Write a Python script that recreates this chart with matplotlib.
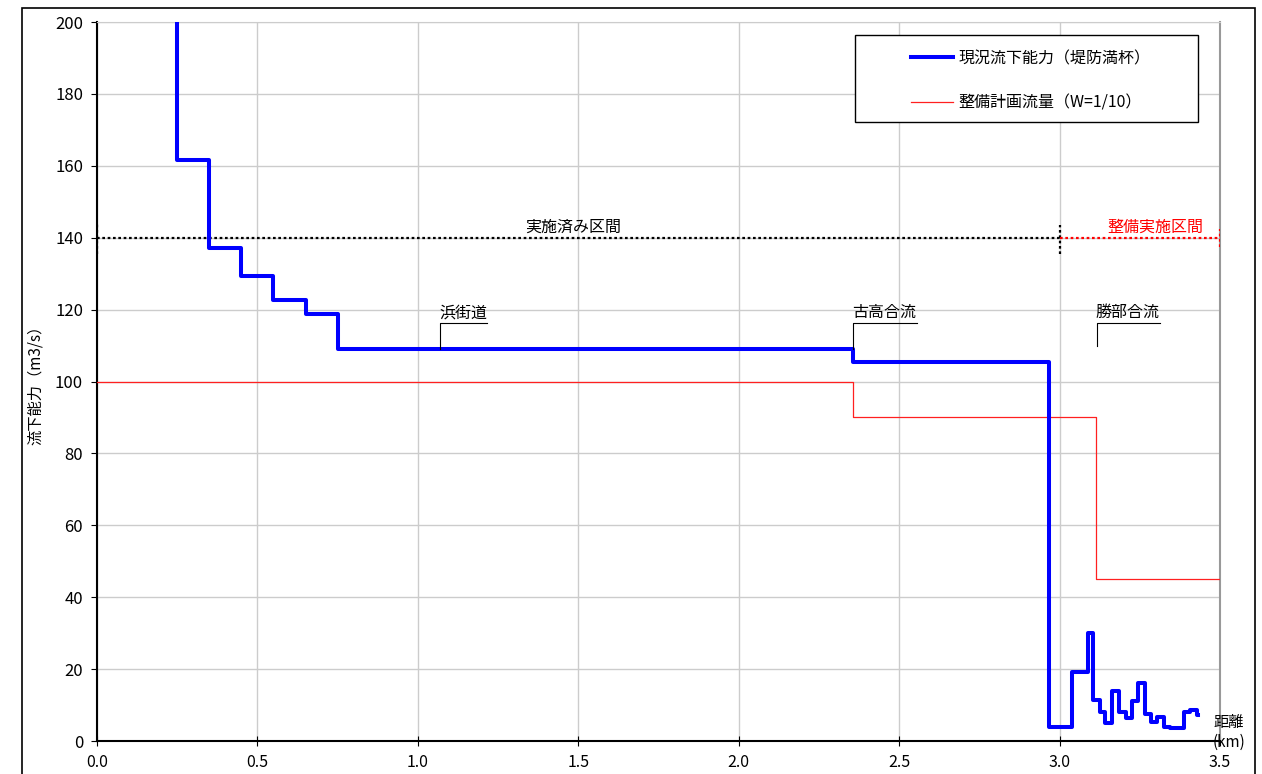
import matplotlib
matplotlib.use("Agg")
import matplotlib.pyplot as plt
from matplotlib.patches import Rectangle

plt.rcParams['font.family'] = ['Noto Sans CJK JP', 'DejaVu Sans']

# 現況流下能力（堤防満杯） - steps-post
cap_x = [0.25, 0.25, 0.35, 0.45, 0.55, 0.65, 0.75, 2.355, 2.968, 3.038, 3.088,
         3.105, 3.126, 3.142, 3.164, 3.186, 3.207, 3.225, 3.243, 3.267, 3.286,
         3.303, 3.325, 3.345, 3.387, 3.408, 3.429, 3.432]
cap_y = [260, 161.6, 137.2, 129.3, 122.8, 118.7, 109.0, 105.3, 4.0, 19.1, 30.1,
         11.4, 8.2, 4.9, 13.9, 8.2, 6.3, 11.1, 16.0, 7.5, 5.4,
         6.6, 3.8, 3.5, 8.2, 8.6, 7.2, 7.2]

# 整備計画流量（W=1/10）
plan_x = [0.0, 2.355, 3.115, 3.5]
plan_y = [100, 90, 45, 45]

# 区間
done_range = [0.0, 3.0]
plan_range = [3.0, 3.5]
section_level = 140

# 地点注記: (名称, x, 開始y, 終端x)
points = [("浜街道", 1.07, 109.0, 1.215),
          ("古高合流", 2.356, 109.0, 2.555),
          ("勝部合流", 3.116, 109.9, 3.313)]
bracket_top = 116.4

xticks = [0.0, 0.5, 1.0, 1.5, 2.0, 2.5, 3.0, 3.5]
yticks = [0, 20, 40, 60, 80, 100, 120, 140, 160, 180, 200]

fig = plt.figure(figsize=(12.62, 7.74), dpi=100)
ax = fig.add_axes([97/1262, 33/774, 1123/1262, 719/774])

# 外枠
fig.patches.append(Rectangle((22/1262, -0.02), 1233/1262, 0.02 + 766/774,
                             transform=fig.transFigure, fill=False,
                             edgecolor='black', linewidth=1.2))

ax.step(cap_x, cap_y, where='post', color='#0000ff', linewidth=2.9,
        label='現況流下能力（堤防満杯）', zorder=4)
ax.step(plan_x, plan_y, where='post', color='#ff2020', linewidth=0.9,
        label='整備計画流量（W=1/10）', zorder=3)

dot = (0, (1.2, 1.2))
# 実施済み区間
ax.plot(done_range, [section_level]*2, color='black', linestyle=dot,
        linewidth=1.6, zorder=3)
ax.plot([done_range[0]]*2, [135.5, 144.5], color='black', linestyle=dot,
        linewidth=1.6, zorder=3)
ax.plot([done_range[1]]*2, [135.5, 143.5], color='black', linestyle=dot,
        linewidth=1.6, zorder=3)
ax.text(1.483, section_level + 0.6, '実施済み区間', ha='center',
        va='bottom', fontsize=11.5)

# 整備実施区間
ax.plot(plan_range, [section_level]*2, color='#ff0000', linestyle=dot,
        linewidth=1.6, zorder=3)
ax.plot([plan_range[1]]*2, [137.5, 142.5], color='#ff0000', linestyle=dot,
        linewidth=1.6, zorder=3)
ax.text(3.297, section_level + 0.6, '整備実施区間', ha='center', va='bottom',
        fontsize=11.5, color='#ff0000')

for name, px, py, pe in points:
    ax.plot([px, px, pe], [py, bracket_top, bracket_top], color='black',
            linewidth=0.8, zorder=5)
    ax.text(px - 0.003, bracket_top + 0.4, name, ha='left', va='bottom', fontsize=11.5)

ax.set_xlim(0, 3.5)
ax.set_ylim(0, 200)
ax.set_xticks(xticks)
ax.set_yticks(yticks)
ax.set_xticklabels([f"{t:.1f}" for t in xticks])
ax.tick_params(axis='x', direction='inout', length=7, labelsize=11.5, pad=6)
ax.tick_params(axis='y', direction='out', length=4, labelsize=12, pad=6)
ax.grid(True, color='#cccccc', linewidth=1.0, zorder=0)
ax.set_axisbelow(True)

for side in ['left', 'bottom']:
    ax.spines[side].set_color('black')
    ax.spines[side].set_linewidth(1.5)
ax.spines['top'].set_color('#cccccc')
ax.spines['right'].set_color('#999999')
ax.spines['right'].set_linewidth(1.5)

ax.set_ylabel('流下能力（m3/s）', fontsize=11)
ax.yaxis.set_label_coords(-0.047, 0.50)

ax.text(1.008, 0.012, '距離\n(km)', transform=ax.transAxes, ha='center',
        va='center', fontsize=11, linespacing=1.25)

# 凡例（枠は別に描く）
ax.add_patch(Rectangle(((855-97)/1123, (741-122)/719), 343/1123, 87/719,
                       transform=ax.transAxes, fill=True, facecolor='white',
                       edgecolor='black', linewidth=1.0, zorder=9))
leg = ax.legend(loc='upper left', bbox_to_anchor=((911-97)/1123, (741-50)/719),
                fontsize=11.5, frameon=False, borderpad=0, labelspacing=1.7,
                handlelength=2.6, borderaxespad=0, handletextpad=0.35)
leg.set_zorder(10)

fig.savefig('out.png', dpi=100)
